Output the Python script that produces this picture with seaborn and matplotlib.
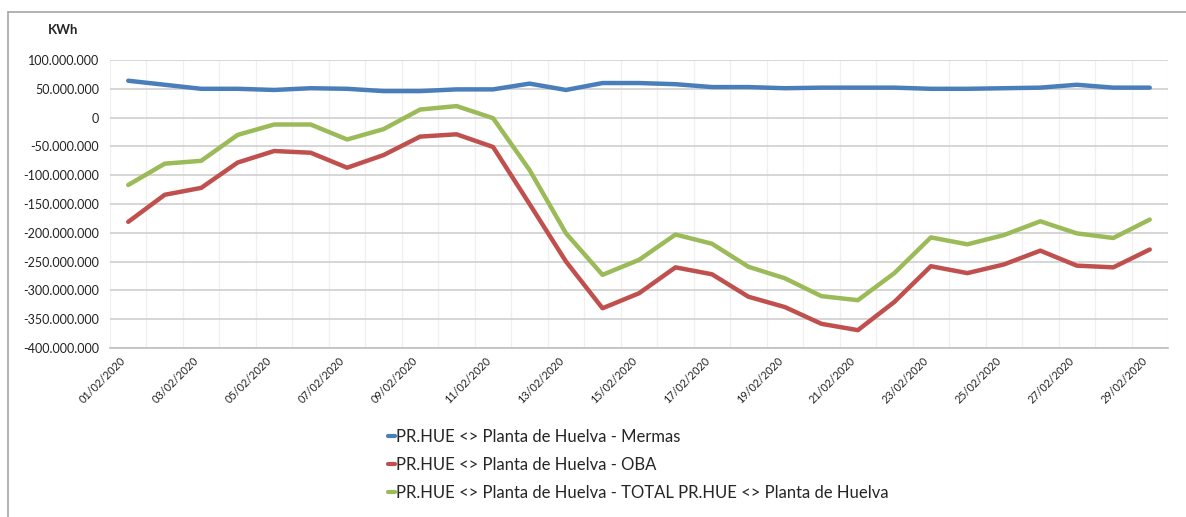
import numpy as np
import pandas as pd
import matplotlib
matplotlib.use("Agg")
import matplotlib.pyplot as plt
import matplotlib.transforms as mtrans
from matplotlib.lines import Line2D
import seaborn as sns

# ---- data ----
dates = [f"{d:02d}/02/2020" for d in range(1, 30)]
mermas = [64, 57, 50, 50, 48, 51, 50, 46, 46, 49, 49, 59, 48, 60, 60, 58, 53, 53,
          51, 52, 52, 52, 50, 50, 51, 52, 57, 52, 52]
oba = [-181, -134, -122, -78, -58, -61, -87, -65, -33, -29, -51, -150, -250, -331, -305,
       -260, -272, -311, -329, -358, -369, -320, -258, -270, -255, -231, -257, -260, -229]
total = [-117, -80, -75, -30, -12, -12, -38, -20, 14, 20, -1, -91, -201, -273, -247,
         -203, -219, -259, -279, -310, -317, -270, -208, -220, -204, -180, -201, -209, -177]
series_names = ["PR.HUE <> Planta de Huelva - Mermas",
                "PR.HUE <> Planta de Huelva - OBA",
                "PR.HUE <> Planta de Huelva - TOTAL PR.HUE <> Planta de Huelva"]
colors = ["#4A7EBB", "#C0504D", "#9BBB59"]
y_ticks = list(range(-400, 101, 50))  # millions
unit_label = "KWh"

# ---- build long table ----
rows = []
for name, vals in zip(series_names, [mermas, oba, total]):
    for i, v in enumerate(vals):
        rows.append({"idx": i, "date": dates[i], "value": v * 1_000_000, "series": name})
df = pd.DataFrame(rows)

sns.set_style("white")
plt.rcParams["font.family"] = ["Lato", "DejaVu Sans"]

fig = plt.figure(figsize=(11.86, 5.17), dpi=100)
ax = fig.add_axes([110 / 1186, 1 - 348 / 517, (1168 - 110) / 1186, (348 - 60) / 517])

sns.lineplot(data=df, x="idx", y="value", hue="series", palette=colors,
             hue_order=series_names, linewidth=3.2, ax=ax, legend=False, zorder=3)

n = len(dates)
ax.set_xlim(-0.5, n - 0.5)
ax.set_ylim(y_ticks[0] * 1e6, y_ticks[-1] * 1e6)

# y axis
ax.set_yticks([t * 1e6 for t in y_ticks])
ax.set_yticklabels([f"{t * 1_000_000:,.0f}".replace(",", ".") for t in y_ticks], fontsize=9, color="#222222")
ax.tick_params(axis="y", length=0, pad=8)
ax.yaxis.grid(True, color="#D0D0D0", linewidth=1.2, zorder=0)

# x axis: boundaries as ticks/grid, labels every 2nd category
ax.set_xticks(np.arange(-0.5, n, 1.0), minor=True)
ax.xaxis.grid(True, which="minor", color="#F0F0F0", linewidth=1.0, zorder=0)
ax.tick_params(axis="x", which="minor", length=5, color="#BFBFBF", width=1, direction="out")
label_pos = list(range(0, n, 2))
ax.set_xticks(label_pos)
ax.set_xticklabels([dates[i] for i in label_pos], rotation=45, ha="right", va="center",
                   rotation_mode="anchor", fontsize=7.8, color="#222222")
ax.tick_params(axis="x", which="major", length=0, pad=8)
offset = mtrans.ScaledTranslation(-4 / 100, 0, fig.dpi_scale_trans)
for lbl in ax.get_xticklabels():
    lbl.set_transform(lbl.get_transform() + offset)

ax.set_xlabel("")
ax.set_ylabel("")
for s in ["top", "right", "left"]:
    ax.spines[s].set_visible(False)
ax.spines["bottom"].set_color("#BFBFBF")
ax.spines["bottom"].set_linewidth(1.2)

# unit label
fig.text(48 / 1186, 1 - 30 / 517, unit_label, fontsize=9.5, fontweight="bold", va="center", ha="left")

# legend
handles = [Line2D([0], [0], color=c, linewidth=3) for c in colors]
fig.legend(handles, series_names, loc="upper left", bbox_to_anchor=(381 / 1186, 1 - 422 / 517),
           frameon=False, fontsize=12, handlelength=0.45, handletextpad=0.05, labelspacing=0.72,
           borderaxespad=0)

# chart border (left and top)
fig.add_artist(Line2D([8 / 1186, 8 / 1186], [0, 1 - 12 / 517], transform=fig.transFigure,
                      color="#A6A6A6", linewidth=1.2))
fig.add_artist(Line2D([8 / 1186, 1], [1 - 12 / 517, 1 - 12 / 517], transform=fig.transFigure,
                      color="#A6A6A6", linewidth=1.2))

fig.savefig("out.png", dpi=100, facecolor="white")
